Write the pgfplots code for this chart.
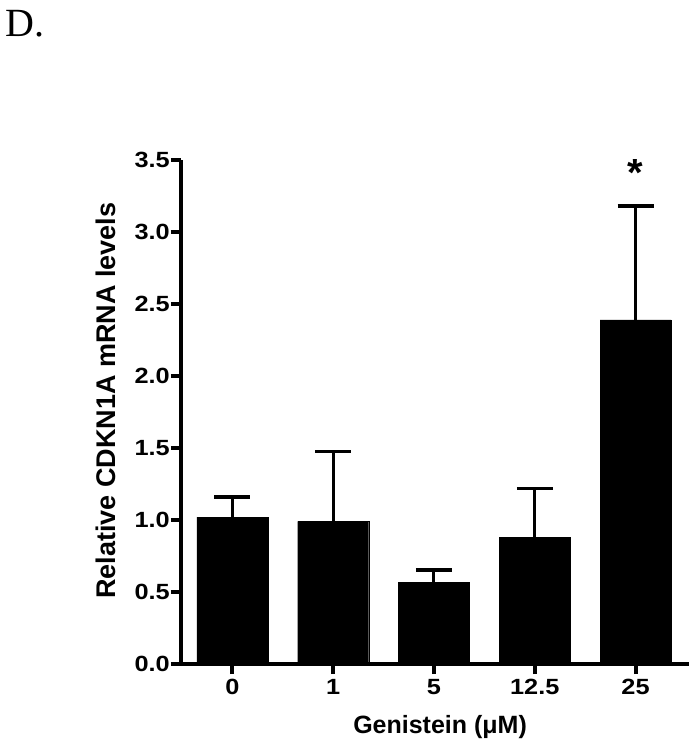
\documentclass[border=0pt]{standalone}
\usepackage{fontspec}
\setmainfont{Liberation Sans}
\newfontfamily\serifD{Liberation Serif}
\newfontfamily\wide[FakeStretch=1.15]{Liberation Sans}
\usepackage{pgfplots}
\pgfplotsset{compat=1.18}
\begin{document}
\begin{tikzpicture}
\useasboundingbox (-181bp,-86bp) rectangle (511bp,664bp);
\begin{axis}[
  at={(0bp,0bp)}, anchor=south west,
  scale only axis, width=508bp, height=504bp,
  ybar, bar width=71bp,
  xmin=-0.511, xmax=4.531, ymin=0, ymax=3.5,
  axis lines=left,
  axis line style={-, line width=4bp, black},
  xtick={0,1,2,3,4}, xticklabels={0,1,5,12.5,25},
  ytick={0,0.5,1,1.5,2,2.5,3,3.5},
  tick align=outside, major tick length=10bp,
  tick style={line width=4bp, black},
  xticklabel style={font=\wide\bfseries\fontsize{22bp}{25bp}\selectfont, inner sep=1bp, yshift=-4bp},
  yticklabel style={font=\wide\bfseries\fontsize{22bp}{25bp}\selectfont, inner sep=1bp,
    /pgf/number format/.cd, fixed, fixed zerofill, precision=1, assume math mode=true},
  xlabel={Genistein (μM)},
  ylabel={Relative CDKN1A mRNA levels},
  xlabel style={font=\bfseries\fontsize{25bp}{28bp}\selectfont, at={(axis description cs:0.51,-0.125)}, anchor=center},
  ylabel style={font=\bfseries\fontsize{27bp}{30bp}\selectfont, at={(axis description cs:-0.148,0.522)}, anchor=center},
]
\addplot[fill=black, draw=black,
  error bars/.cd, y dir=plus, y explicit,
  error bar style={line width=3bp, black},
  error mark options={rotate=90, line width=3.3bp, mark size=18bp, black}]
coordinates {
  (0,1.02) +- (0,0.14)
  (1,0.99) +- (0,0.485)
  (2,0.565) +- (0,0.088)
  (3,0.88) +- (0,0.34)
  (4,2.39) +- (0,0.79)
};
\node[font=\bfseries\fontsize{40bp}{40bp}\selectfont] at (axis cs:4,3.41) {*};
\end{axis}
\node[anchor=base west, font=\serifD\fontsize{40bp}{40bp}\selectfont, inner sep=0pt] at (-176bp,627bp) {D.};
\end{tikzpicture}
\end{document}
